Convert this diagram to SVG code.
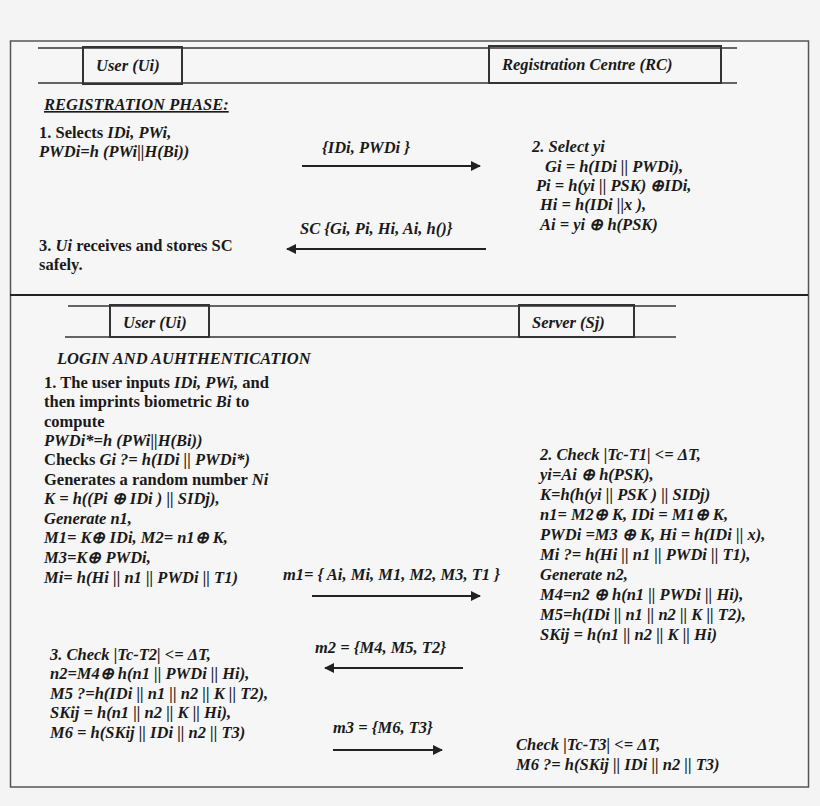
<svg xmlns="http://www.w3.org/2000/svg" width="820" height="806" viewBox="0 0 820 806">
<style>
text{font-family:"Liberation Serif","Times New Roman",serif;font-size:16.5px;font-weight:bold;fill:#1a1a1a}
.i{font-style:italic}
.ln{stroke:#333;stroke-width:1.6;fill:none}
.box{stroke:#333;stroke-width:2;fill:none}
.ar{stroke:#222;stroke-width:2;fill:none;marker-end:url(#ah)}
</style>
<defs><marker id="ah" markerWidth="10" markerHeight="10" refX="9" refY="5" orient="auto" markerUnits="userSpaceOnUse"><path d="M0,0 L10,5 L0,10 z" fill="#222"/></marker></defs>
<rect width="820" height="806" fill="#f4f4f4"/>
<rect x="10.5" y="41" width="798" height="746" fill="#f6f6f6" stroke="#555" stroke-width="1.5"/>
<line x1="10" y1="295" x2="808" y2="295" stroke="#222" stroke-width="2"/>
<g id="top-lanes">
<line class="ln" x1="38" y1="48" x2="737" y2="48"/><line class="ln" x1="38" y1="83" x2="737" y2="83"/>
</g>
<g id="user-ui-1"><rect class="box" x="83" y="47" width="99" height="37"/><text class="i" x="96" y="71">User (Ui)</text></g>
<g id="rc"><rect class="box" x="489" y="46" width="232" height="37"/><text class="i" x="502" y="70">Registration Centre (RC)</text></g>
<g id="reg-title"><text class="i" x="44" y="110" text-decoration="underline">REGISTRATION PHASE:</text></g>
<g id="reg-step1"><text x="39" y="138">1. Selects <tspan class="i">IDi, PWi,</tspan></text><text class="i" x="39" y="157">PWDi=h (PWi||H(Bi))</text></g>
<g id="reg-step2">
<text class="i" x="532" y="152">2. Select  yi</text>
<text class="i" x="545" y="172">Gi = h(IDi || PWDi),</text>
<text class="i" x="536" y="191">Pi = h(yi || PSK) ⊕IDi,</text>
<text class="i" x="540" y="210">Hi = h(IDi ||x ),</text>
<text class="i" x="540" y="230">Ai = yi ⊕ h(PSK)</text>
</g>
<g id="reg-step3"><text x="39" y="251">3. <tspan class="i">Ui</tspan>  receives and stores SC</text><text x="39" y="270">safely.</text></g>
<g id="bottom-lanes">
<line class="ln" x1="68" y1="306" x2="676" y2="306"/><line class="ln" x1="65" y1="337" x2="676" y2="337"/>
</g>
<g id="user-ui-2"><rect class="box" x="110" y="305" width="99" height="32"/><text class="i" x="123" y="328">User (Ui)</text></g>
<g id="server"><rect class="box" x="519" y="305" width="115" height="32"/><text class="i" x="532" y="328">Server (Sj)</text></g>
<g id="login-title"><text class="i" x="57" y="364">LOGIN AND AUHTHENTICATION</text></g>
<g id="login-step1">
<text x="44" y="388">1. The user inputs <tspan class="i">IDi, PWi,</tspan> and</text>
<text x="44" y="407">then imprints biometric <tspan class="i">Bi</tspan> to</text>
<text x="44" y="427">compute</text>
<text class="i" x="44" y="446">PWDi*=h (PWi||H(Bi))</text>
<text x="44" y="465">Checks <tspan class="i">Gi ?= h(IDi || PWDi*)</tspan></text>
<text x="44" y="485">Generates a random number <tspan class="i">Ni</tspan></text>
<text class="i" x="44" y="504">K = h((Pi ⊕ IDi ) || SIDj),</text>
<text class="i" x="44" y="524">Generate n1,</text>
<text class="i" x="44" y="543">M1= K⊕ IDi, M2= n1⊕ K,</text>
<text class="i" x="44" y="563">M3=K⊕ PWDi,</text>
<text class="i" x="44" y="583">Mi= h(Hi || n1 || PWDi || T1)</text>
</g>
<g id="login-step2">
<text class="i" x="540" y="460">2.  Check |Tc-T1| &lt;= ΔT,</text>
<text class="i" x="540" y="480">yi=Ai ⊕ h(PSK),</text>
<text class="i" x="540" y="500">K=h(h(yi || PSK ) || SIDj)</text>
<text class="i" x="540" y="520">n1= M2⊕ K, IDi = M1⊕ K,</text>
<text class="i" x="540" y="540">PWDi =M3 ⊕ K, Hi = h(IDi || x),</text>
<text class="i" x="540" y="560">Mi ?= h(Hi || n1 || PWDi || T1),</text>
<text class="i" x="540" y="580">Generate n2,</text>
<text class="i" x="540" y="600">M4=n2 ⊕ h(n1 || PWDi || Hi),</text>
<text class="i" x="540" y="620">M5=h(IDi || n1 || n2 || K || T2),</text>
<text class="i" x="540" y="640">SKij = h(n1 || n2 || K || Hi)</text>
</g>
<g id="login-step3">
<text class="i" x="50" y="660">3.  Check |Tc-T2| &lt;= ΔT,</text>
<text class="i" x="50" y="679">n2=M4⊕ h(n1 || PWDi  || Hi),</text>
<text class="i" x="50" y="699">M5 ?=h(IDi || n1 || n2 || K || T2),</text>
<text class="i" x="50" y="718">SKij = h(n1 || n2 || K || Hi),</text>
<text class="i" x="50" y="738">M6 = h(SKij || IDi || n2 || T3)</text>
</g>
<g id="login-step4">
<text class="i" x="516" y="750">Check |Tc-T3| &lt;= ΔT,</text>
<text class="i" x="516" y="770">M6 ?= h(SKij || IDi || n2 || T3)</text>
</g>
<g id="connectors">
<line class="ar" x1="302" y1="166" x2="480" y2="166"/>
<text class="i" x="322" y="153">{IDi, PWDi }</text>
<line class="ar" x1="486" y1="249" x2="287" y2="249"/>
<text class="i" x="300" y="234">SC {Gi, Pi, Hi, Ai, h()}</text>
<line class="ar" x1="312" y1="596" x2="480" y2="596"/>
<text class="i" x="283" y="580">m1= { Ai, Mi, M1, M2, M3, T1 }</text>
<line class="ar" x1="463" y1="668" x2="325" y2="668"/>
<text class="i" x="315" y="653">m2 = {M4, M5, T2}</text>
<line class="ar" x1="333" y1="750" x2="442" y2="750"/>
<text class="i" x="333" y="733">m3 = {M6, T3}</text>
</g>
</svg>
